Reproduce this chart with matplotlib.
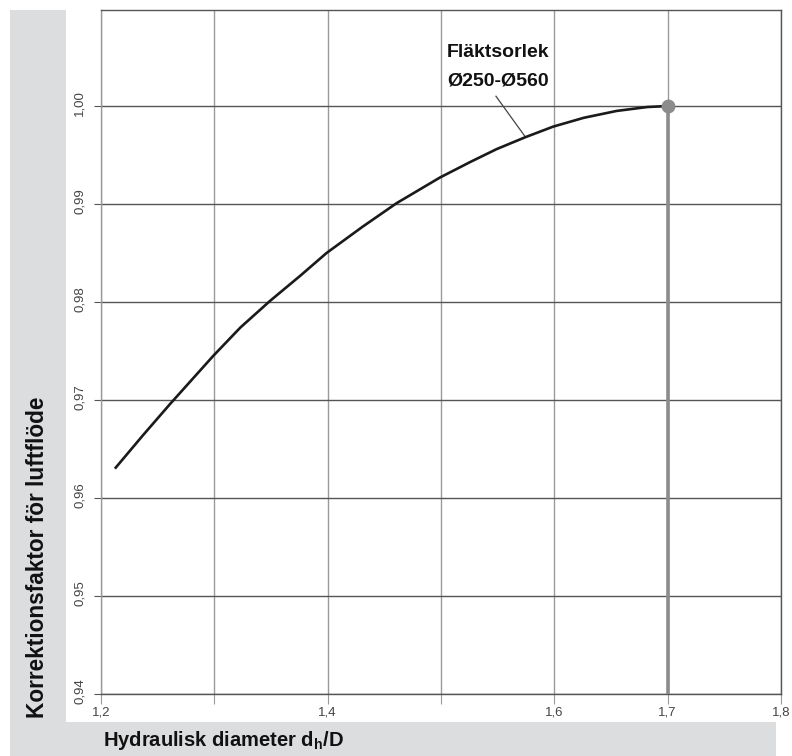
import matplotlib
matplotlib.use("Agg")
import matplotlib.pyplot as plt
from matplotlib.patches import Rectangle
import matplotlib.transforms as mtransforms

plt.rcParams['font.family'] = ['Liberation Sans', 'DejaVu Sans']
plt.rcParams['mathtext.fontset'] = 'custom'
plt.rcParams['mathtext.rm'] = 'Liberation Sans'
plt.rcParams['mathtext.bf'] = 'Liberation Sans:bold'

# Data
hyd_diam = [1.213, 1.237, 1.261, 1.299, 1.323, 1.349, 1.376, 1.399, 1.431, 1.461, 1.499,
            1.526, 1.549, 1.574, 1.599, 1.626, 1.655, 1.682, 1.700]
corr_factor = [0.9631, 0.9664, 0.9696, 0.9745, 0.9774, 0.9801, 0.9827, 0.9850, 0.9877, 0.9901, 0.9927,
               0.9943, 0.9956, 0.9968, 0.9979, 0.9988, 0.9995, 0.9999, 1.0000]
x_ticks = [1.2, 1.3, 1.4, 1.5, 1.6, 1.7, 1.8]
x_tick_labels = ['1,2', '', '1,4', '', '1,6', '1,7', '1,8']
y_ticks = [0.94, 0.95, 0.96, 0.97, 0.98, 0.99, 1.00]
y_tick_labels = ['0,94', '0,95', '0,96', '0,97', '0,98', '0,99', '1,00']
ref_x, ref_y = 1.7, 1.00
annot_lines = ['Fläktsorlek', 'Ø250-Ø560']
annot_point = (1.5741, 0.9969)
annot_start = (1.5485, 1.0010)

W, H = 792, 756
fig = plt.figure(figsize=(W / 100, H / 100), dpi=100)
fig.patch.set_facecolor('white')

band = '#dcdddf'
fig.patches.append(Rectangle((10 / W, 0), (66 - 10) / W, (H - 10) / H, transform=fig.transFigure,
                             facecolor=band, edgecolor='none', zorder=0))
fig.patches.append(Rectangle((66 / W, 0), (776 - 66) / W, (H - 722) / H, transform=fig.transFigure,
                             facecolor=band, edgecolor='none', zorder=0))

ax = fig.add_axes([101 / W, (H - 694) / H, (781 - 101) / W, (694 - 10) / H])
ax.set_xlim(1.2, 1.8)
ax.set_ylim(0.94, 1.0098)

# grid
for xv in x_ticks:
    ax.axvline(xv, color='#9a9a9a', lw=1.0, zorder=1)
for yv in y_ticks:
    ax.axhline(yv, color='#555555', lw=1.0, zorder=1)

ax.set_xticks(x_ticks)
ax.set_xticklabels(x_tick_labels, fontsize=9.5, color='#444444')
ax.set_yticks(y_ticks)
ax.set_yticklabels(y_tick_labels, rotation=90, va='center', fontsize=9.5, color='#444444')
ax.tick_params(axis='x', length=7, color='#9a9a9a', pad=2)
ax.tick_params(axis='y', length=5, color='#555555', pad=6)
offset = mtransforms.ScaledTranslation(0, 3 / 100, fig.dpi_scale_trans)
for lab in ax.get_yticklabels():
    lab.set_transform(lab.get_transform() + offset)

for s in ax.spines.values():
    s.set_color('#555555')
    s.set_linewidth(1.0)
ax.spines['left'].set_color('#9a9a9a')

# reference vertical line and marker
ax.plot([ref_x, ref_x], [0.94, ref_y], color='#8c8c8c', lw=2.6, zorder=3, solid_capstyle='butt')
ax.plot(hyd_diam, corr_factor, color='#1a1a1a', lw=1.9, zorder=4, solid_joinstyle='round')
ax.plot([ref_x], [ref_y], 'o', color='#8c8c8c', ms=9, zorder=5)

# annotation
ax.plot([annot_start[0], annot_point[0]], [annot_start[1], annot_point[1]], color='#444444', lw=0.9, zorder=3)
ax.text(1.5053, 1.00503, annot_lines[0], fontsize=14, fontweight='bold', ha='left', va='baseline', color='#111111')
ax.text(1.5053, 1.00214, annot_lines[1], fontsize=14, fontweight='bold', ha='left', va='baseline', color='#111111')

fig.text(38 / W, (H - 718) / H, 'Korrektionsfaktor för luftflöde', rotation=90,
         ha='center', va='bottom', fontsize=16.3, fontweight='bold', color='#111111')
fig.text(103 / W, (H - 740) / H, r'Hydraulisk diameter d$_\mathbf{h}$/D', ha='left', va='center',
         fontsize=14.5, fontweight='bold', color='#111111')

fig.savefig('out.png', dpi=100)
